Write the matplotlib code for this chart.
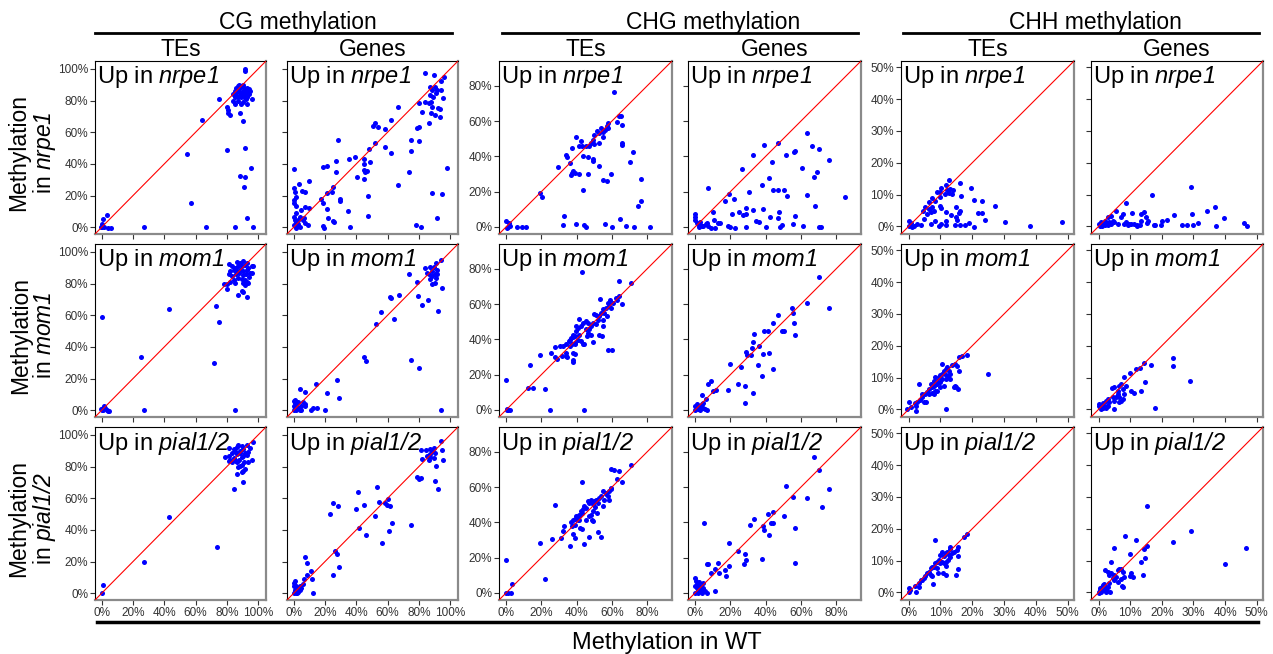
import matplotlib
matplotlib.use("Agg")
import matplotlib.pyplot as plt
import numpy as np

plt.rcParams['font.family'] = ['Liberation Sans', 'DejaVu Sans']
plt.rcParams['mathtext.fontset'] = 'custom'
plt.rcParams['mathtext.rm'] = 'Liberation Sans'
plt.rcParams['mathtext.it'] = 'Liberation Sans:italic'
plt.rcParams['mathtext.sf'] = 'Liberation Sans:italic'

# ---- data: (WT %, mutant %) ----
mutants = ['nrpe1', 'mom1', 'pial1/2']
contexts = ['CG', 'CHG', 'CHH']
features = ['TEs', 'Genes']

cg_te_nrpe1 = [(91.5,100),(91.5,98.8),(86,88),(87,89),(88,90),(89,89),(90,90),(91,88),(92,87),(93,88),(94,87),(95,86),
    (85,86),(86,85),(87,86),(88,87),(89,85),(90,86),(91,85),(92,84),(93,85),(94,84),(88,83),(89,82),(90,83),(91,82),
    (87,82),(86,83),(85,82),(84,84),(92,81),(93,82),(96,81),(84,80),(85,78),(89,78),(92.7,78),(90,79),(87,80),
    (75,80.8),(64.4,67.7),(80,76),(81,74),(81,72),(82,71),(88.5,72),(90.6,67.3),(54.6,46),(80,48.7),(91.6,49.8),
    (88.5,32.3),(91.6,31.9),(95.2,37.5),(90.8,25.5),(57.3,15),(92.9,5.5),(66.5,0),(85,0.2),(26.8,0),(96.9,0),
    (0,2.3),(0.6,4.9),(3.3,8),(0.2,0),(1.7,0),(4.2,-0.2),(5.9,-0.5),(-0.4,0)]
cg_gene_nrpe1 = [(83.9,97.7),(89.5,96.2),(96,95.1),(94.1,92.6),(87,88.8),(90.6,88.4),(88.5,86.7),(91.6,86.9),(94.1,86.7),
    (91.2,85),(86.8,83.5),(88.9,82.5),(95.2,81.4),(87.9,79.3),(86.4,78.7),(80,78.3),(83.9,79.3),(88.5,76.2),(92.3,75.1),
    (93.7,74.5),(86.4,65.6),(87.9,72.4),(90.6,70.9),(93.7,69.8),(82.2,73),(66.5,75.7),(62.3,67.7),(51.9,66),(50.8,63.9),
    (54,63.1),(58.1,61.8),(79,62.4),(80,63),(74.9,55.1),(80.1,54.6),(74.9,48.3),(62.3,47),(58.1,50.8),(51.9,53),
    (48.3,49.2),(48.7,41.4),(45,42.8),(45.2,39.9),(44.6,36.1),(45.6,35),(46.7,35.5),(44.6,30.2),(40.4,31.9),(39.3,44.5),
    (35.1,42.8),(26.8,42),(26.8,35),(28.5,55.1),(18.4,38.2),(21.5,38.8),(73.4,35),(97.9,37.6),(66.5,26.4),(47.7,19.8),
    (25.1,25.1),(24.7,22.4),(21.5,21.3),(29.3,18.1),(29.7,16.7),(34.5,10.3),(47.7,7.2),(17.4,17.5),(18.4,15.6),
    (21.1,11.4),(22.2,5.9),(25.1,4),(25.7,3),(19,0.6),(19.4,-0.6),(35.8,0),(78,1.7),(81.2,0),(88.5,21.3),(94.8,20.7),
    (91.6,5.9),(0.2,36.5),(0.2,24.5),(0.6,22.4),(3.3,27.6),(9.6,29.3),(1.3,19.2),(0.2,17.1),(0.2,15),(1.3,13.5),
    (5.4,23),(6.9,22.4),(4.8,10.8),(7.3,12.9),(10,12.4),(1.3,9.1),(0.2,6.5),(0.6,4.4),(1.7,3.4),(2.7,2.3),(0.2,1.3),
    (3.8,6.5),(6.5,6.1),(5.9,4.4),(7.3,2.7),(9,1.3),(1.7,-0.4),(3.8,0.2),(0.6,0.6),(2.7,4.4)]
chg_te_nrpe1 = [(61.2,76.6),(63.7,63),(65,63),(63.1,59.7),(65.5,57.5),(65.4,47.4),(65.4,46.5),(71.9,42.3),(70,37),
    (76.6,27.2),(76.6,14.7),(74.9,12.1),(57.9,58.8),(57.1,57.3),(56,55),(57.5,56),(53.7,56.3),(55,54),(51.3,54.6),
    (52.4,53.1),(50,52.2),(49.1,49.3),(48.1,47.4),(49.6,47),(46.8,45.6),(52.8,47.4),(55.1,50.9),(52.8,34.6),(39.7,51.2),
    (42.5,48.4),(43.1,45.6),(41.6,45.6),(45.3,45.6),(37.5,45),(34.6,39.5),(34.2,40.6),(36,36.1),(37.8,31.9),(37.3,30.8),
    (36.9,29.5),(38.8,30.4),(41.6,29.9),(43.8,40.3),(46.3,39.9),(49.1,38.6),(49.1,37.1),(46.3,29.9),(43.4,21),
    (59.7,30.1),(54.7,26.7),(57.1,26.3),(29.2,33.8),(19.5,19.5),(20.1,16.8),(32.6,6.4),(39.7,1.7),(44.4,0.9),(45,-0.2),
    (32.2,0.9),(55.8,1.7),(59.9,0),(64.6,4.7),(67.8,0.8),(72.5,0.2),(81.3,0),(0,3.4),(1.9,2.1),(2.2,0.8),(0.4,-0.4),
    (1.3,0.2),(6.4,0),(8.8,0),(11.2,0)]
chg_gene_nrpe1 = [(63.6,53.1),(66.4,45.6),(70.1,44.2),(75.7,38),(56.4,43.1),(56.1,42.2),(51.4,40.6),(46.7,47.4),
    (38.9,46.3),(33.1,40.6),(43.6,36.7),(60.7,33.6),(69.2,31.4),(67.3,28.2),(42.1,27.6),(43.9,21),(46.7,21),(50.5,21),
    (52.3,17.8),(37.9,23.8),(26.5,32.7),(30.3,19.7),(7.5,22.3),(19.1,18.5),(17.2,14.9),(21.9,15.7),(28.6,11),(32.7,9.6),
    (38.3,10),(47.7,8.7),(21.1,7.4),(24.9,8.7),(27.1,6.8),(29,7.2),(34.6,3.6),(36.4,3),(42.4,5.9),(46.7,4.9),(56.6,6.2),
    (63.6,18.1),(67.9,11.9),(85,17.2),(10.3,8.3),(10.6,3.9),(13.1,2.5),(6.5,2.5),(0,7.2),(0,5.9),(0,4),(0.9,2.1),
    (2.8,1.1),(4.7,0.6),(7.5,0.8),(8.8,-0.4),(11.2,-0.4),(14,2.1),(18.7,0.6),(20,-0.2),(22.4,-0.4),(28.6,0),(40,0),
    (47.9,0.2),(49.2,1),(55.7,1.7),(61.3,0.8),(70.1,-0.2),(71.6,-0.2),(2,0),(4,0.5),(6,1.5),(3,3),(1.5,1.5)]
chh_te_nrpe1 = [(12.8,14.7),(16.1,13.7),(19.7,12),(10.2,12.1),(11.6,13.1),(12.1,11.3),(13.1,11.9),(14,11.3),(10,10.7),
    (11.3,10.2),(9,10.7),(12.6,10.4),(13.6,10.2),(16.5,9.7),(9.8,9.2),(7.2,8.8),(8.4,8.1),(6.4,7.6),(5.3,6.2),(6.4,5.5),
    (7.4,6),(8.1,4.9),(4.5,4.7),(10,6.5),(10.3,5.8),(11.9,4.4),(13.3,3.7),(14.9,6),(15.7,4.2),(16.3,4.9),(15,2.8),
    (15.2,2.1),(18.9,1.1),(20.4,-0.3),(20.4,8.3),(23.2,8.1),(21.9,4.2),(23.1,4.2),(23.9,2.1),(27.3,6.3),(30.3,1.5),
    (38.1,0),(48.1,1.5),(7.1,0.9),(8.4,1.6),(9.5,0.2),(10.2,0.7),(11.6,1.6),(11.7,0.4),(14.7,0.4),(16.3,0.4),(17.6,0.4),
    (0.1,1.8),(0.6,1),(1.7,0.2),(1.1,-0.3),(0.1,0),(2.7,0.7),(3.8,0.5),(4.8,2.3),(5.8,3.9),(6.9,4.4)]
chh_gene_nrpe1 = [(29.3,12.5),(16.8,9.8),(8.8,7.3),(5.5,4.9),(3.9,3.4),(2.9,2.8),(7.1,3.1),(7.6,3.9),(10.7,4.1),
    (13.3,3.9),(14.4,4.4),(15.1,3.1),(13.3,1.8),(15.2,1.1),(17.5,0.5),(19.6,0.5),(20.1,1.8),(21.7,2),(23.8,3.7),
    (26.4,0.4),(28,0.4),(29.8,0.4),(29.4,3.9),(31.5,1.1),(34.4,4.7),(36.8,6),(37.1,0),(39.6,2.5),(46.1,1.1),(46.9,0),
    (0,0.9),(0.3,0.5),(0.8,1.3),(1.4,0.7),(1.9,1.8),(2.4,0.9),(2.9,0.4),(3.4,1.3),(3.9,0.7),(4.5,1.8),(5,1.3),(6.1,0.9),
    (8.1,0.7),(8.6,1.3),(9.2,0.5),(9.7,0.9),(10.2,0.7),(11.3,0.7),(12.3,0.5),(15.6,1.8),(17.9,0.4),(0.5,0.2),(1,0),
    (2,0.3),(12,0),(13,0.3)]

cg_te_mom1 = [(81.2,92.6),(86.4,93.7),(88.5,93),(90.6,94),(92.7,93),(83.3,91.2),(85.4,90),(87.4,91.2),(89.5,91.2),
    (91.6,91.6),(93.7,90),(95.8,91.2),(96.9,91.2),(82.2,88),(84.3,88.6),(86.4,88),(88.5,88.8),(90.6,88),(92.7,88.8),
    (94.8,86.7),(81.2,85.9),(83.3,84.8),(85.8,85.9),(87.9,86.5),(90,85.3),(92.1,85.9),(94.2,84.4),(95.8,86.7),(87.4,83.6),
    (89.5,82.9),(91.6,82.5),(84.3,82.1),(82.2,81),(85.4,80.5),(78,79.5),(80.1,79.5),(80.1,76.4),(90.6,80.5),(91.6,79.4),
    (92.7,80.7),(93.7,80.2),(89.5,75.6),(90.6,74.5),(92.7,71.8),(87,72.8),(73.2,66),(74.9,56),(0,58.7),(43.1,63.8),
    (25.1,33.9),(71.5,29.9),(84.9,0.4),(26.8,0),(0,0),(0.6,1.5),(1.3,2.5),(2.1,1.5),(3.3,0),(-0.4,0.8),(0.6,0),
    (3.8,-0.2),(4.8,-0.2)]
cg_gene_mom1 = [(94.4,94.9),(91,93),(86.8,90.5),(89.5,90.7),(83.9,89.7),(88.5,87.8),(91.6,88.4),(85.4,86.9),(86.4,85.9),
    (90.6,86.3),(88.1,84.8),(91.2,83.8),(87.4,82.7),(88.5,79.6),(91.6,85.9),(73.8,85.9),(79,80.8),(90.6,80.2),(94.8,77.2),
    (79.7,72.2),(86,69.9),(82.2,66.3),(92.3,62.5),(61.7,71.4),(62.3,71),(67.6,72.8),(56.1,62.1),(64.4,57.9),(52.5,54.3),
    (74.9,31.8),(80.1,26.5),(94.4,0),(44.6,33.7),(46.3,31),(27.4,19.2),(28.9,8),(21.1,10.9),(14.2,16.4),(20.1,0),
    (12.1,1.5),(14.9,1.1),(11.1,0),(3.8,13.1),(6.9,11.4),(0,5.7),(0.6,4.6),(1.7,3.6),(2.7,5.1),(0.2,2.5),(1.1,1.5),
    (2.7,1.5),(3.8,0.4),(4.8,2.5),(5.9,5.1),(6.9,3.6),(0.2,0),(1.7,0),(4.8,0),(7.5,2.5),(0.6,6.7)]
chg_te_mom1 = [(42.9,78.2),(64,72.9),(71,71.9),(63.7,64.8),(63.1,62.5),(65.4,60.1),(62.2,63.5),(60.3,60.6),(58.8,62.5),
    (57.5,60.6),(56.6,57.8),(58.1,58.8),(59.4,57.8),(54.7,56.9),(53.7,55),(55.6,55),(52.8,53.1),(56.9,53.1),(54.7,51.2),
    (50.9,54),(51.9,51.2),(50,54.4),(49.1,49.3),(50.9,48.4),(48.1,47.5),(46.8,45.6),(46.3,49.3),(45,50.3),(43.4,49.3),
    (42.5,47.5),(40.6,46.5),(45.3,45.6),(46.3,43.7),(48.1,42.7),(53.4,63.1),(52.8,42.7),(54.3,41.8),(54.9,47.5),
    (39.7,44.6),(37.8,42.7),(38.8,41.8),(36.9,40.9),(41.6,42.7),(40.6,39.9),(42.5,39),(38.8,38),(37.5,37.1),(35.6,39),
    (36,36.2),(38.8,37.5),(43.8,37.3),(49.1,38.4),(44.4,37.1),(45.7,41.8),(41.6,51.6),(39.7,47.5),(38,41.4),(57.5,33.9),
    (59.9,33.9),(36.3,39.4),(34,37.3),(32.2,36),(30.3,36.4),(27.9,35.6),(27.7,30.1),(28.8,29),(25.7,32),(31.5,30.5),
    (33.7,30.5),(34.1,32.4),(38.2,32.4),(38.8,31.5),(37.8,28.2),(37.8,27.1),(34.5,30.1),(19.1,30.9),(13.5,25.2),
    (12.2,12.2),(15.4,12.2),(21.9,12.1),(24.7,0),(44.4,0),(0,16.8),(0.4,0),(1.3,0),(2.2,0),(0.7,0.7)]
chg_gene_mom1 = [(70.1,75.3),(63.6,60.3),(75.7,57.8),(54.8,57.8),(55.7,55),(56.1,49.3),(56.4,42.7),(46.7,54),(44.3,49.3),
    (50.5,44.6),(49.5,44.6),(38.9,44.6),(41.1,44.6),(33.3,43.3),(32.7,38.4),(36.1,36.5),(32.3,35.2),(28.6,32.8),
    (29.5,30.9),(31.8,30.9),(38.3,31.5),(42.1,32.4),(35.5,25.2),(26.2,24.3),(37.9,19.2),(43.9,23.4),(28.4,13.6),
    (33.1,9.8),(28.4,4),(24.3,14.5),(18.7,11.1),(20,26.2),(7.5,14.9),(9.3,16.4),(10.3,10.7),(12.1,11.3),(6.2,6),(3.7,8.3),
    (0,2.3),(0.9,1.3),(1.9,0.4),(2.8,1.9),(4.7,1.3),(5.6,0.4),(3.7,3.2),(1.3,3.2),(0,0),(6.5,0),(2.8,0),(4.7,4.1)]
chh_te_mom1 = [(18.5,17.2),(16.8,16.7),(15.7,16.5),(15.2,13.5),(15.7,12),(13.6,13.9),(12.1,13.4),(12.6,12.2),(11,12.2),
    (13.1,11.2),(11.6,10.7),(10.5,11.2),(10,10.7),(9.5,10.1),(8.4,10.1),(9,9),(7.9,9),(10.5,9.5),(11.6,9.5),(12.3,10.1),
    (12.9,9.5),(10,8.5),(9,8),(7.9,7.4),(7.2,6.9),(6.4,6.4),(5.8,5.6),(5.3,4.8),(6.9,8),(6.4,4.8),(7.4,5.3),(7.9,4.8),
    (8.4,5.9),(9.8,6.9),(9,5.9),(11,7.5),(4.3,3.8),(3.5,2.8),(4.8,2.2),(2.7,2.2),(2.2,1.2),(3.2,8.1),(5.6,2.2),(4.3,4.9),
    (1.9,1.9),(0.6,0.6),(0.1,2.2),(-0.4,0.1),(2.2,-0.4),(11.6,0),(24.9,11),(15,7),(15.4,6.3),(14.7,7.5),(14.2,7),
    (10.5,14.3),(11.9,12.7),(14.7,14.3)]
chh_gene_mom1 = [(23.4,16.2),(23.6,13.6),(16.7,14),(14.4,14.7),(13.1,13),(11.8,12.8),(10,11.5),(8.1,10.1),(7.1,8),
    (6.3,7.5),(5,7),(4.2,6.8),(6.0,5.9),(7.6,6.4),(8.1,4.8),(8.6,7.5),(11.3,5.1),(10.2,5.9),(13.3,5.7),(14.6,8.5),(29,8.8),
    (17.7,0.3),(5,0),(6.6,2.2),(7.1,2.7),(7.6,3.2),(5.5,3.8),(5,2.7),(4.5,3.8),(3.4,2.2),(2.9,3.2),(2.4,2.7),(1.4,1.9),
    (0,1.7),(0,1.2),(0.3,0.6),(0.8,0.1),(1.4,0.4),(1.9,0.6),(2.4,0.4),(1.7,1.2),(2.7,1.2),(3.1,1.2),(6.1,4.9),(6.6,3.8)]

cg_te_pial = [(96.9,95.8),(92.7,93.7),(94.6,91.8),(89.5,93.2),(87.4,93.5),(86.4,92.2),(90.6,91.1),(88.5,90),(85.4,90),
    (84.3,91.1),(83.3,88.8),(86.4,88),(88.5,88.8),(91.6,88.8),(93.5,89.4),(92.7,87.3),(90.6,86.9),(81.2,86.9),(79,85.8),
    (82.2,84.4),(84.3,85.2),(85.8,83.7),(87.9,84.4),(89.5,85.8),(91.2,83.1),(93.3,83.1),(95.8,84.4),(83.3,83.1),
    (86.4,82.7),(81.2,83.7),(88.5,80.5),(87.4,79.9),(89.5,81.2),(91.6,78.4),(90.6,77.4),(89.5,76.3),(86.4,75.3),
    (90.2,70.4),(84.7,65.8),(81.2,91.5),(43.1,48.2),(73.4,29.4),(26.8,19.9),(0.6,5.1),(0,0)]
cg_gene_pial = [(94.1,96.2),(87.4,91.1),(89.5,91.5),(88.5,90),(90.6,88.8),(86.8,88.2),(85.4,86.7),(87.4,86.3),(89.5,85.6),
    (86.4,84.4),(84.3,90.5),(81.2,90.5),(82.2,84.8),(94.8,90.5),(95.2,84.1),(91.2,80.3),(90.6,70.8),(92.3,66),(79,73.2),
    (80.1,72.1),(81.2,72.5),(53.3,67),(41,63.8),(54.5,57.9),(60,59.8),(58.3,56.7),(59.4,55.8),(61.7,55.2),(45,55.8),
    (39.7,53.5),(25.1,57.1),(28.5,55.2),(23,50.1),(51.7,48.8),(41.6,41.2),(46.1,36.6),(74.9,43.3),(62.8,44.6),(60.9,39.5),
    (56.3,31.9),(26.4,26.6),(27.7,24.7),(28.9,16.7),(25.1,11.6),(7.5,22.8),(8.2,18.8),(8.6,11.2),(11.1,14),(11.7,8.7),
    (12.5,0),(6.5,9.1),(5.9,5.9),(3.8,4.4),(2.7,3.4),(0.6,7.6),(0.2,4.4),(0.6,2.3),(1.1,1.3),(1.7,0.2),(0.2,0),(2.7,1.3),
    (3.8,2.3),(4.8,3.4),(1.7,4.4),(0.2,6.6),(2,0),(3,0.5)]
chg_te_pial = [(71,72.7),(59.7,70.2),(61.2,69.9),(64,68.9),(63.1,64.6),(65.4,63.1),(42.9,62.7),(27.9,49.9),(59.4,58.6),
    (58.4,57.6),(56.6,56.7),(57.5,54.8),(59.4,59.5),(54.7,57.6),(53.7,54.8),(55.6,52.9),(52.8,53.9),(50.9,52.9),(51.9,51),
    (50,52),(49.1,50.1),(48.1,52.9),(47.2,51),(46.3,52),(45.3,48.2),(44.4,49.5),(43.1,45.4),(41.6,44.4),(41.2,43.5),
    (42.5,46.3),(43.8,47.3),(39.7,43.5),(38.8,42),(40.6,41.6),(37.8,41.1),(36.9,40.1),(38.8,38.6),(37.5,38.2),(38.2,33.5),
    (38.8,31.3),(36.3,26.6),(44.4,27.5),(47.2,31.8),(51.9,34.7),(53.7,31.8),(48.7,41.6),(49.4,40.7),(48.1,44.4),
    (50.6,48.8),(54.7,49.5),(56.6,55.9),(58.1,52.7),(41.9,36.9),(41.6,41.6),(45.3,41.6),(47.2,43.5),(49.1,46.3),
    (51.3,45.4),(32.2,35),(33.1,38.2),(31.2,30.9),(26.2,30.7),(19.1,28.2),(42.9,36.3),(21.9,7.7),(0,18.6),(0,0),(1.3,0),
    (2.6,0),(3.2,5.3)]
chg_gene_pial = [(67.3,77),(70.1,69.9),(75.7,58.9),(51.4,60.5),(55.7,54.2),(63.6,53.5),(72,48.8),(56.4,36.9),(56.6,17.1),
    (50.5,43.5),(43.9,46.1),(41.1,45),(43.9,39.7),(43,39.7),(38.7,38.2),(39.3,35.9),(42.1,32.6),(33.3,42),(31.2,38.6),
    (37.9,19),(28.4,21.8),(28.6,18.5),(27.9,16.6),(19.1,28.4),(24.3,23.6),(19.3,15.1),(17.8,9.6),(16.8,12.8),(13.1,17.1),
    (13.6,11.1),(11.2,13.4),(9.3,11.5),(7.5,16.6),(6.5,16.2),(5.2,39.9),(11.2,1.1),(0,8.5),(0.6,6.8),(0.9,4.9),(1.3,3),
    (1.9,1.7),(2.8,4),(3.7,2.1),(4.7,5.8),(5.6,1.1),(6.5,0),(0,0),(1.9,0),(3.7,0),(4.7,3),(0,4),(2,6),(3,1)]
chh_te_pial = [(18.5,18.4),(17.3,17.4),(8.4,16.5),(15.5,14.4),(15.2,13.4),(13.1,14.4),(12.9,13.6),(12.1,12.8),(11.6,12.3),
    (10.5,12.8),(10,11.8),(11,11.3),(12.6,11.8),(13.1,11.1),(13.6,12.3),(14.2,12.8),(12.3,10.2),(11.9,9.4),(10.5,9.7),
    (10,9.2),(9.5,10.2),(9,9.7),(8.4,9.2),(7.9,8.1),(7.4,8.1),(6.9,7.6),(6.4,6.5),(5.8,6),(5.3,5),(4.8,4.5),(4.3,3.9),
    (3.8,3.9),(3.3,2.8),(9,7.6),(9.2,6),(7.4,5),(6.9,5.5),(10.8,6),(11.6,5.5),(11,9.1),(11.9,8.4),(15.4,11.5),(15.4,7.4),
    (14.9,5.5),(7.6,2.5),(2,2.1),(0.1,1.5),(0.4,0.7),(0,0),(2.2,0),(3.3,1.8)]
chh_gene_pial = [(15.2,27.1),(29.3,19.2),(23.4,15.9),(8.4,17.6),(11.8,16.5),(46.7,13.9),(40.1,8.9),(15.2,14.7),(14.4,13.6),
    (10,12.1),(14.6,10.9),(13.3,9.5),(5,13.9),(3.8,9.7),(1.9,7),(2.9,6.5),(3.4,5.5),(4.0,6),(5,5.5),(5.5,4.9),(6,7),
    (6.5,7.3),(7.1,7.5),(7.6,6.5),(7.9,4.9),(7.1,4.1),(6,3.4),(5,3.9),(4.5,4.4),(7.3,2.1),(7.6,1.8),(3.4,2.8),(3.7,0.2),
    (2.7,0.5),(2.4,1.8),(10.4,6),(11,4.7),(10,5.3),(13.9,5.5),(0,0.2),(0.3,0.7),(0.6,1.3),(1,1.8),(1.4,2.3),(1.7,2.6),
    (1.9,1.3),(0,-0.3),(0.8,0),(2.4,0.2),(2.9,1.8),(1.4,0.7)]

panels = [
    [cg_te_nrpe1, cg_gene_nrpe1, chg_te_nrpe1, chg_gene_nrpe1, chh_te_nrpe1, chh_gene_nrpe1],
    [cg_te_mom1, cg_gene_mom1, chg_te_mom1, chg_gene_mom1, chh_te_mom1, chh_gene_mom1],
    [cg_te_pial, cg_gene_pial, chg_te_pial, chg_gene_pial, chh_te_pial, chh_gene_pial],
]

# axis range and ticks per context
lims = {'CG': (-4.3, 105), 'CHG': (-4, 94), 'CHH': (-2.4, 52)}
ticks = {'CG': [0, 20, 40, 60, 80, 100], 'CHG': [0, 20, 40, 60, 80], 'CHH': [0, 10, 20, 30, 40, 50]}

W, H = 1273, 654
fig = plt.figure(figsize=(W / 100, H / 100), dpi=100)

col_px = [(95, 266), (287, 458), (499, 672), (688, 861), (901, 1074), (1091, 1263)]
row_px = [(61, 234), (244, 417), (427, 600)]

for r in range(3):
    for c in range(6):
        ctx = contexts[c // 2]
        x0, x1 = col_px[c]
        y0, y1 = row_px[r]
        ax = fig.add_axes([x0 / W, 1 - y1 / H, (x1 - x0) / W, (y1 - y0) / H])
        pts = np.array(panels[r][c])
        ax.scatter(pts[:, 0], pts[:, 1], s=13, color='blue', linewidths=0, zorder=2)
        lo, hi = lims[ctx]
        ax.plot([lo, hi], [lo, hi], color='red', lw=0.8, zorder=3)
        ax.set_xlim(lo, hi)
        ax.set_ylim(lo, hi)
        ax.set_xticks(ticks[ctx])
        ax.set_yticks(ticks[ctx])
        ax.set_xticklabels(['%d%%' % t for t in ticks[ctx]] if r == 2 else [])
        ax.set_yticklabels(['%d%%' % t for t in ticks[ctx]] if c % 2 == 0 else [])
        ax.tick_params(direction='out', length=3.5, width=0.8, color='#333333',
                       labelsize=8.5, labelcolor='#333333', pad=1.5)
        for s in ['left', 'top']:
            ax.spines[s].set_color('black')
            ax.spines[s].set_linewidth(0.8)
        for s in ['right', 'bottom']:
            ax.spines[s].set_color('#8a8a8a')
            ax.spines[s].set_linewidth(1.6)
        ax.text(0.012, 0.985, r'Up in $\mathsf{%s}$' % mutants[r], transform=ax.transAxes,
                ha='left', va='top', fontsize=17)
        if r == 0:
            fig.text(((x0 + x1) / 2) / W, 1 - 50 / H, features[c % 2], ha='center', va='center', fontsize=16.5)

# context titles with rules underneath
title_x = [298, 713, 1095]
rule_px = [(95, 452), (502, 858), (903, 1259)]
for i, ctx in enumerate(contexts):
    fig.text(title_x[i] / W, 1 - 22 / H, ctx + ' methylation', ha='center', va='center', fontsize=16.5)
    a, b = rule_px[i]
    fig.add_artist(plt.Line2D([a / W, b / W], [1 - 33 / H, 1 - 33 / H], color='black', lw=2))

# row labels
for r in range(3):
    y0, y1 = row_px[r]
    fig.text(33 / W, 1 - ((y0 + y1) / 2 + 5) / H, 'Methylation\nin $\\mathsf{%s}$' % mutants[r],
             rotation=90, ha='center', va='center', fontsize=16.5, linespacing=1.05)

# bottom axis label
fig.add_artist(plt.Line2D([97 / W, 1258 / W], [1 - 622 / H, 1 - 622 / H], color='black', lw=2.5))
fig.text(667 / W, 1 - 643 / H, 'Methylation in WT', ha='center', va='center', fontsize=17)

fig.savefig('out.png', dpi=100)
